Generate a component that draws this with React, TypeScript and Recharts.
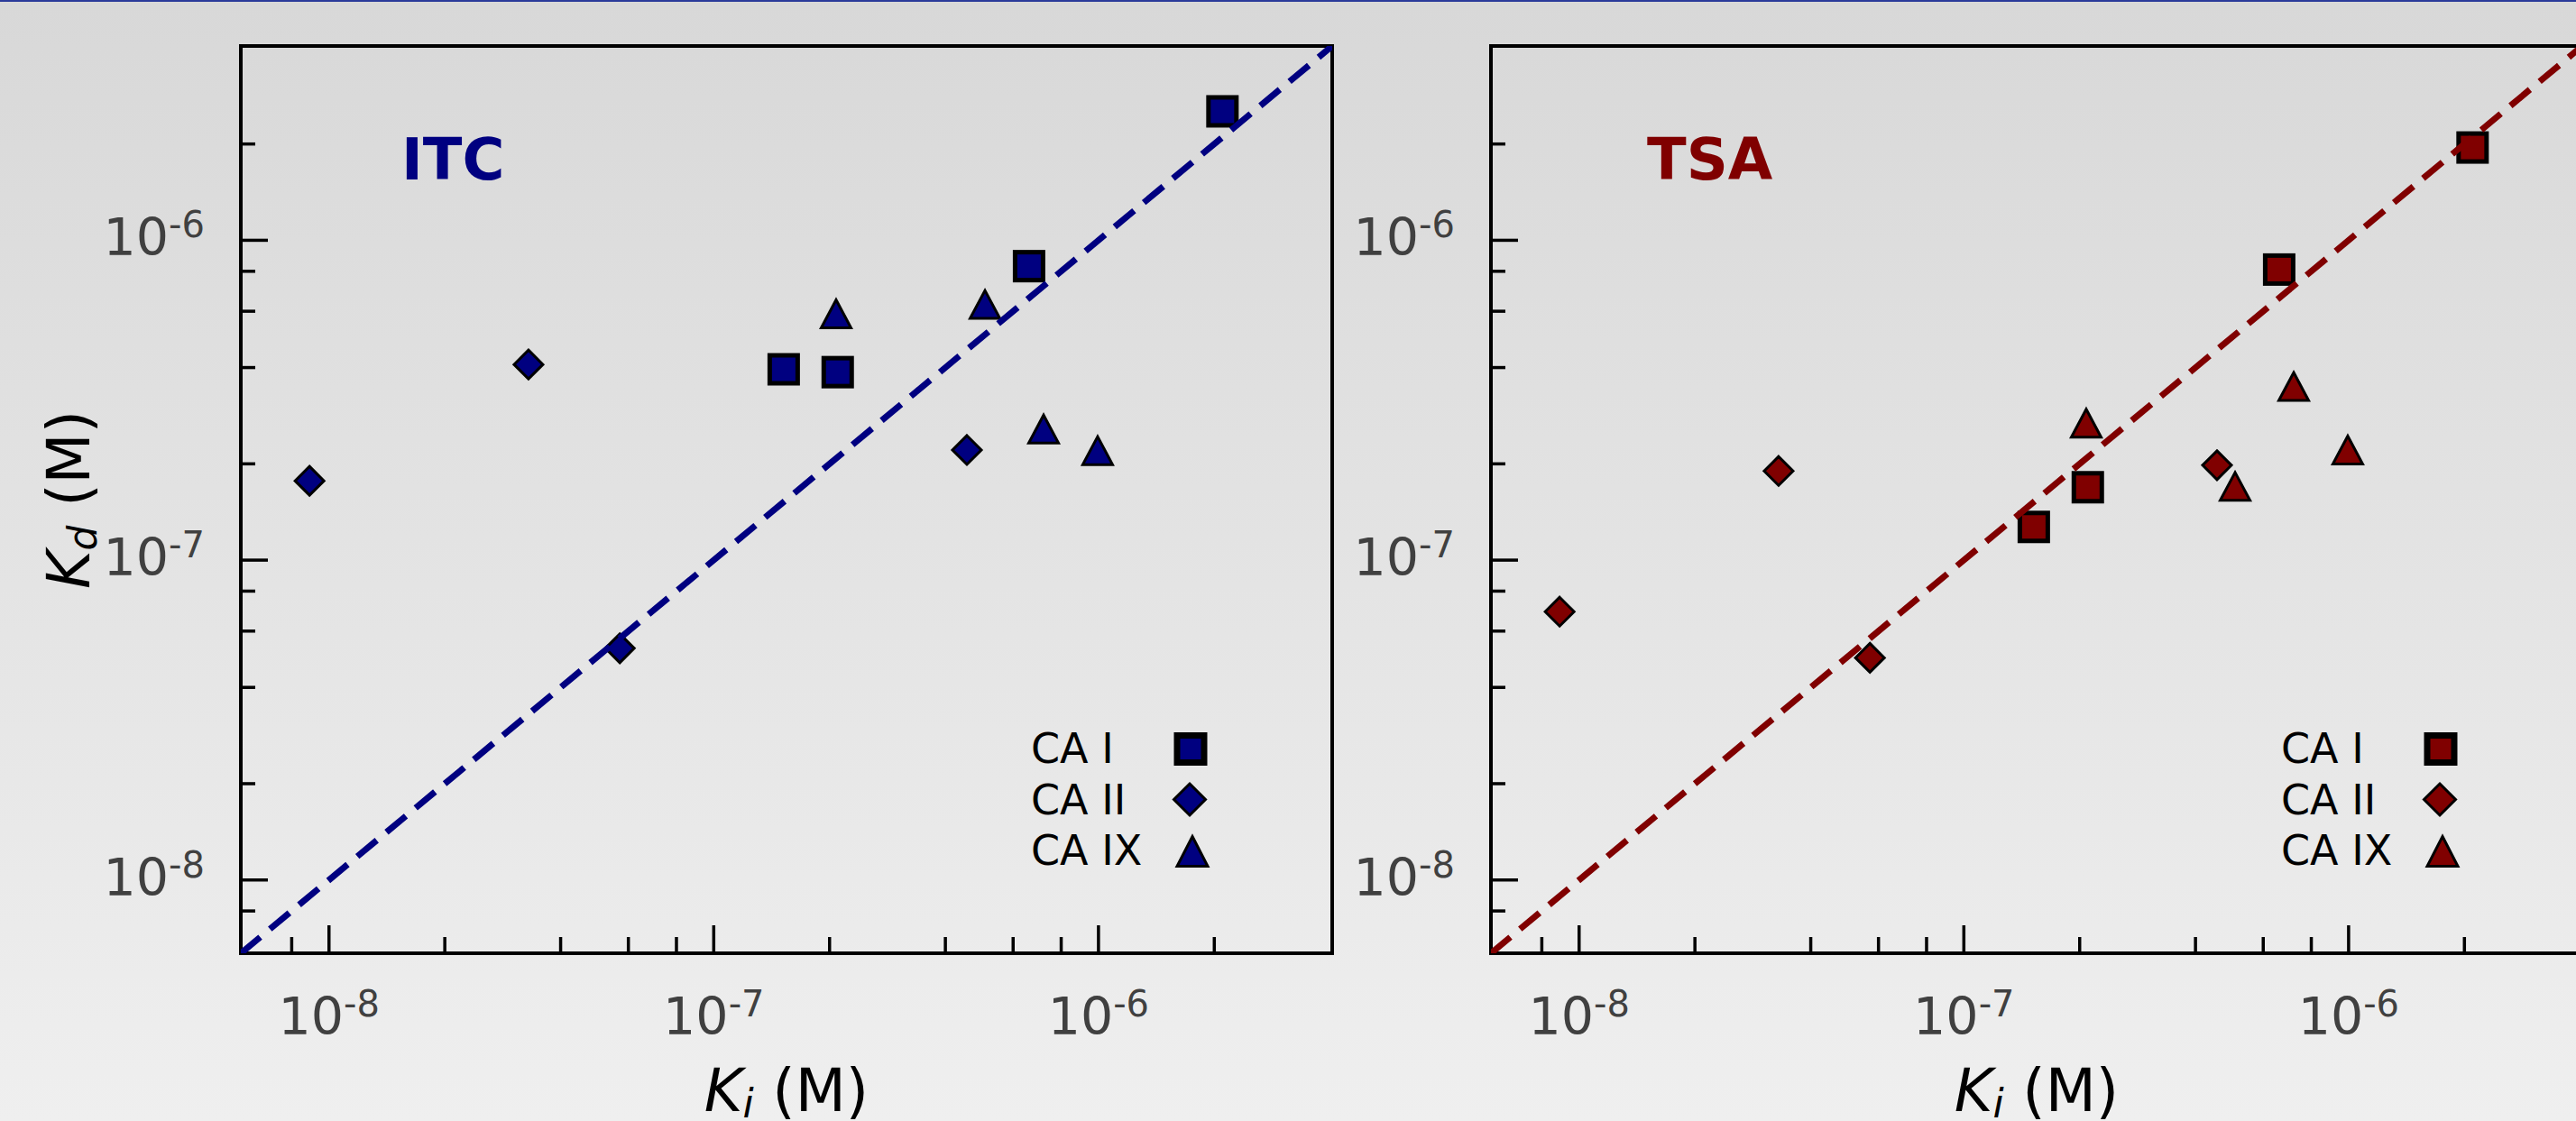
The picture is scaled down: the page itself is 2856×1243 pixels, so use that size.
import React from 'react';
import { ScatterChart, Scatter, XAxis, YAxis, ReferenceArea } from 'recharts';

const NAVY = '#000080';
const MAROON = '#800000';
const FONT = 'DejaVu Sans';

// Ki (M), same inhibitors in both panels
const kiCAI = [1.52e-7, 2.1e-7, 6.6e-7, 2.1e-6];
const kiCAII = [8.9e-9, 3.3e-8, 5.7e-8, 4.55e-7];
const kiCAIX = [2.08e-7, 5.07e-7, 7.2e-7, 9.95e-7];

// Kd (M) measured by ITC
const itcCAI = [3.95e-7, 3.87e-7, 8.3e-7, 2.53e-6];
const itcCAII = [1.77e-7, 4.09e-7, 5.3e-8, 2.21e-7];
const itcCAIX = [5.89e-7, 6.3e-7, 2.57e-7, 2.2e-7];

// Kd (M) measured by TSA
const tsaCAI = [1.27e-7, 1.69e-7, 8.1e-7, 1.95e-6];
const tsaCAII = [6.9e-8, 1.9e-7, 4.95e-8, 1.98e-7];
const tsaCAIX = [2.68e-7, 1.7e-7, 3.49e-7, 2.21e-7];

const seriesNames = ['CA I', 'CA II', 'CA IX'];
const majorTicks = [1e-8, 1e-7, 1e-6];
const minorTicks = [8e-9, 2e-8, 4e-8, 6e-8, 8e-8, 2e-7, 4e-7, 6e-7, 8e-7, 2e-6];
const allTicks = [...minorTicks, ...majorTicks].sort((a, b) => a - b);
const axisMin = 5.9e-9;
const axisMax = 4.05e-6;
// y = x reference line, corner to corner
const diagonal = [
  { x: axisMin, y: axisMin },
  { x: axisMax, y: axisMax },
];

const CHART_H = 1243;
const PLOT_TOP = 51;
const X_AXIS_H = 186;

const isMajor = (v: number) => majorTicks.some((m) => Math.abs(m - v) / m < 1e-6);
const expOf = (v: number) => String(Math.round(Math.log10(v)));

const XTick = ({ x, y, payload }: any) => {
  const major = isMajor(payload.value);
  return (
    <g>
      <line x1={x} x2={x} y1={y} y2={y - (major ? 31 : 18)} stroke="#000" strokeWidth={3.5} />
      {major && (
        <text x={x} y={y + 90} textAnchor="middle" fill="#404040" fontSize={57} fontFamily={FONT}>
          10
          <tspan fontSize={40} dy={-20}>{expOf(payload.value)}</tspan>
        </text>
      )}
    </g>
  );
};

const YTick = ({ x, y, payload }: any) => {
  const major = isMajor(payload.value);
  return (
    <g>
      <line x1={x} x2={x + (major ? 30 : 16)} y1={y} y2={y} stroke="#000" strokeWidth={3.5} />
      {major && (
        <text x={x - 40} y={y + 17} textAnchor="end" fill="#404040" fontSize={57} fontFamily={FONT}>
          10
          <tspan fontSize={40} dy={-20}>{expOf(payload.value)}</tspan>
        </text>
      )}
    </g>
  );
};

const squareMark = (cx: number, cy: number, fill: string, s = 15.5, sw = 5) => (
  <rect x={cx - s} y={cy - s} width={2 * s} height={2 * s} fill={fill} stroke="#000" strokeWidth={sw} />
);
const diamondMark = (cx: number, cy: number, fill: string, r = 16) => (
  <polygon
    points={`${cx},${cy - r} ${cx + r},${cy} ${cx},${cy + r} ${cx - r},${cy}`}
    fill={fill}
    stroke="#000"
    strokeWidth={3}
  />
);
const triangleMark = (cx: number, cy: number, fill: string, w = 16.5, h = 15.5) => (
  <polygon
    points={`${cx},${cy - h} ${cx + w},${cy + h} ${cx - w},${cy + h}`}
    fill={fill}
    stroke="#000"
    strokeWidth={3}
  />
);
const markers = [squareMark, diamondMark, triangleMark];

type PanelProps = {
  left: number;
  width: number;
  yAxisWidth: number;
  marginRight: number;
  color: string;
  title: string;
  titleDx: number;
  kd: number[][];
  showYLabel: boolean;
};

const Panel = (p: PanelProps) => {
  const ki = [kiCAI, kiCAII, kiCAIX];
  const plotLeft = p.yAxisWidth;
  const plotRight = p.width - p.marginRight;
  const plotBottom = CHART_H - X_AXIS_H;
  const midX = (plotLeft + plotRight) / 2;
  const midY = (PLOT_TOP + plotBottom) / 2;

  return (
    <div style={{ position: 'absolute', left: p.left, top: 0, width: p.width, height: CHART_H }}>
      <ScatterChart
        width={p.width}
        height={CHART_H}
        margin={{ top: PLOT_TOP, right: p.marginRight, bottom: 0, left: 0 }}
      >
        <XAxis
          dataKey="x"
          type="number"
          scale="log"
          domain={[axisMin, axisMax]}
          allowDataOverflow
          ticks={allTicks}
          interval={0}
          tick={XTick}
          tickSize={0}
          tickMargin={0}
          tickLine={false}
          axisLine={false}
          height={X_AXIS_H}
        />
        <YAxis
          dataKey="y"
          type="number"
          scale="log"
          domain={[axisMin, axisMax]}
          allowDataOverflow
          ticks={allTicks}
          interval={0}
          tick={YTick}
          tickSize={0}
          tickMargin={0}
          tickLine={false}
          axisLine={false}
          width={p.yAxisWidth}
        />
        <ReferenceArea
          x1={axisMin}
          x2={axisMax}
          y1={axisMin}
          y2={axisMax}
          fill="none"
          stroke="#000"
          strokeWidth={4}
          ifOverflow="visible"
        />
        {seriesNames.map((name, s) => (
          <Scatter
            key={name}
            name={name}
            data={ki[s].map((x, i) => ({ x, y: p.kd[s][i] }))}
            fill={p.color}
            isAnimationActive={false}
            shape={(props: any) => markers[s](props.cx, props.cy, p.color)}
          />
        ))}
        <Scatter
          name="y = x"
          data={diagonal}
          fill={p.color}
          strokeWidth={7}
          isAnimationActive={false}
          line={{ stroke: p.color, strokeWidth: 7, strokeDasharray: '28 14' }}
          shape={() => <g />}
        />
      </ScatterChart>
      <svg
        width={p.width}
        height={CHART_H}
        style={{ position: 'absolute', left: 0, top: 0, pointerEvents: 'none' }}
      >
        <text x={plotLeft + p.titleDx} y={199} fill={p.color} fontSize={64} fontWeight="bold" fontFamily={FONT}>
          {p.title}
        </text>
        {seriesNames.map((name, s) => (
          <g key={name}>
            <text x={plotLeft + 876} y={846 + s * 56.7} fill="#000" fontSize={46} fontFamily={FONT}>
              {name}
            </text>
            {s === 0 && squareMark(plotLeft + 1053, 830.5, p.color, 15, 7)}
            {s === 1 && diamondMark(plotLeft + 1052, 886.5, p.color, 17.5)}
            {s === 2 && triangleMark(plotLeft + 1055, 944, p.color, 17, 16.5)}
          </g>
        ))}
        <text x={midX} y={1232} textAnchor="middle" fill="#000" fontSize={65} fontFamily={FONT}>
          <tspan fontStyle="italic">K</tspan>
          <tspan fontStyle="italic" fontSize={44} dy={7}>i</tspan>
          <tspan dy={-7}>{'\u00a0(M)'}</tspan>
        </text>
        {p.showYLabel && (
          <text
            x={99}
            y={midY}
            textAnchor="middle"
            fill="#000"
            fontSize={65}
            fontFamily={FONT}
            transform={`rotate(-90, 99, ${midY})`}
          >
            <tspan fontStyle="italic">K</tspan>
            <tspan fontStyle="italic" fontSize={44} dy={8}>d</tspan>
            <tspan dy={-8}>{'\u00a0(M)'}</tspan>
          </text>
        )}
      </svg>
    </div>
  );
};

export default function App() {
  return (
    <div
      style={{
        position: 'absolute',
        left: 0,
        top: 0,
        width: 2856,
        height: CHART_H,
        overflow: 'hidden',
        background: 'linear-gradient(to bottom, #d8d8d8, #efefef)',
        fontFamily: FONT,
      }}
    >
      <div style={{ position: 'absolute', left: 0, top: 0, width: 2856, height: 2, background: '#2a3a9a' }} />
      <Panel
        left={0}
        width={1500}
        yAxisWidth={267}
        marginRight={23}
        color={NAVY}
        title="ITC"
        titleDx={178}
        kd={[itcCAI, itcCAII, itcCAIX]}
        showYLabel
      />
      <Panel
        left={1480}
        width={1400}
        yAxisWidth={173}
        marginRight={17}
        color={MAROON}
        title="TSA"
        titleDx={173}
        kd={[tsaCAI, tsaCAII, tsaCAIX]}
        showYLabel={false}
      />
    </div>
  );
}
